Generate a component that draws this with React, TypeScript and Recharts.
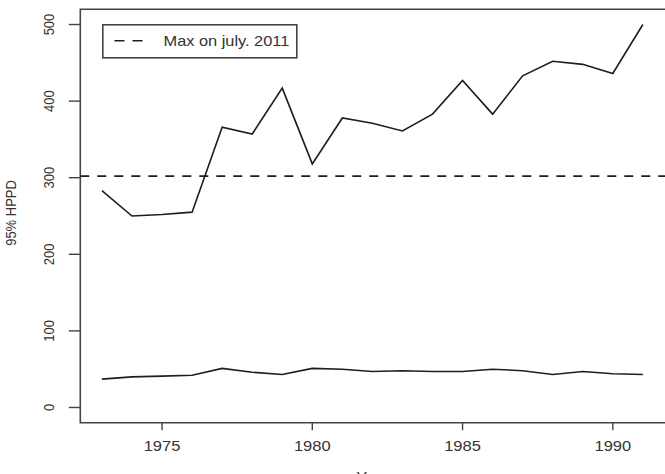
import { LineChart, Line, XAxis, YAxis, ReferenceLine, ReferenceArea, Legend } from "recharts";

const years = [1973, 1974, 1975, 1976, 1977, 1978, 1979, 1980, 1981, 1982, 1983, 1984, 1985, 1986, 1987, 1988, 1989, 1990, 1991];
const upperHPPD = [283, 250, 252, 255, 366, 357, 417, 318, 378, 371, 361, 383, 427, 383, 433, 452, 448, 436, 500];
const lowerHPPD = [37, 40, 41, 42, 51, 46, 43, 51, 50, 47, 48, 47, 47, 50, 48, 43, 47, 44, 43];
const maxJuly2011 = 302;
const xTicks = [1975, 1980, 1985, 1990];
const yTicks = [0, 100, 200, 300, 400, 500];

const data = years.map((y, i) => ({ year: y, upper: upperHPPD[i], lower: lowerHPPD[i] }));

const ink = "#1e1e1e";
const frame = "#444";
const font = "'Liberation Sans', Arial, sans-serif";

const XTick = ({ x, payload }: any) => (
  <text
    transform={`translate(${x},451) scale(1.18,1)`}
    textAnchor="middle"
    fontSize={14}
    fontFamily={font}
    fill="#333"
  >
    {payload.value}
  </text>
);

const YTick = ({ y, payload }: any) => (
  <text
    transform={`translate(54,${y}) scale(1.18,1) rotate(-90)`}
    textAnchor="middle"
    fontSize={13}
    fontFamily={font}
    fill="#333"
  >
    {payload.value}
  </text>
);

const LegendBox = () => (
  <svg width={196} height={35} style={{ display: "block" }}>
    <rect x={0.8} y={0.8} width={194} height={33} fill="#fff" stroke={frame} strokeWidth={1.6} />
    <line x1={12.5} x2={41} y1={16.8} y2={16.8} stroke={ink} strokeWidth={1.6} strokeDasharray="10 8" />
    <text
      transform="translate(61.5,22) scale(1.17,1)"
      fontSize={14}
      fontFamily={font}
      fill="#333"
    >
      Max on july. 2011
    </text>
  </svg>
);

export default function App() {
  return (
    <div style={{ position: "absolute", left: 0, top: 0, width: 665, height: 474, overflow: "hidden", background: "#fff" }}>
      <LineChart width={680} height={474} data={data} margin={{ top: 9.2, right: 13.1, bottom: 0, left: 0 }}>
        <XAxis
          dataKey="year"
          type="number"
          domain={[1972.28, 1991.8]}
          ticks={xTicks}
          tick={<XTick />}
          tickSize={7.5}
          tickLine={{ stroke: frame, strokeWidth: 1.4 }}
          axisLine={false}
          height={51.2}
          allowDataOverflow
        />
        <YAxis
          type="number"
          domain={[-20, 520]}
          ticks={yTicks}
          tick={<YTick />}
          tickSize={11.5}
          tickLine={{ stroke: frame, strokeWidth: 1.4 }}
          axisLine={false}
          width={80.3}
          allowDataOverflow
        />
        <ReferenceArea
          x1={1972.28}
          x2={1991.8}
          y1={-20}
          y2={520}
          fill="none"
          stroke={frame}
          strokeWidth={1.6}
          ifOverflow="visible"
        />
        <ReferenceLine y={maxJuly2011} stroke={ink} strokeWidth={1.6} strokeDasharray="9 8" />
        <Line type="linear" dataKey="upper" stroke={ink} strokeWidth={1.6} dot={false} isAnimationActive={false} />
        <Line type="linear" dataKey="lower" stroke={ink} strokeWidth={1.6} dot={false} isAnimationActive={false} />
        <Legend
          layout="horizontal"
          verticalAlign="middle"
          align="center"
          content={<LegendBox />}
          wrapperStyle={{ position: "absolute", left: 102, top: 23.5, width: 196, height: 35 }}
        />
        <text
          transform="translate(16,213) scale(1.18,1) rotate(-90)"
          textAnchor="middle"
          fontSize={13}
          fontFamily={font}
          fill="#333"
        >
          95% HPPD
        </text>
        <text
          transform="translate(373,482) scale(1.18,1)"
          textAnchor="middle"
          fontSize={14}
          fontFamily={font}
          fill="#333"
        >
          Year
        </text>
      </LineChart>
    </div>
  );
}
